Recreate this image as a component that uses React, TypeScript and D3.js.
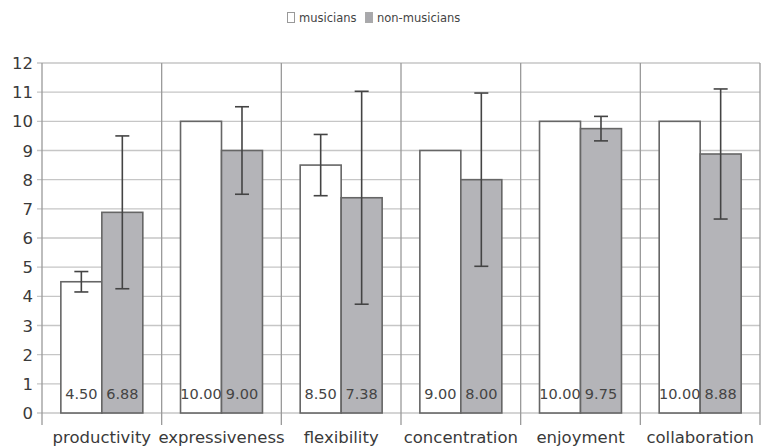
import React from "react";
import * as d3 from "d3";

const categories = ["productivity", "expressiveness", "flexibility", "concentration", "enjoyment", "collaboration"];
const seriesNames = ["musicians", "non-musicians"];
const musicians = [4.5, 10.0, 8.5, 9.0, 10.0, 10.0];
const nonMusicians = [6.88, 9.0, 7.38, 8.0, 9.75, 8.88];
const musiciansErr = [0.35, 0, 1.05, 0, 0, 0];
const nonMusiciansErr = [2.62, 1.5, 3.65, 2.97, 0.42, 2.23];
const yTicks = [0, 1, 2, 3, 4, 5, 6, 7, 8, 9, 10, 11, 12];

const W = 762;
const H = 447;
const FONT = "'DejaVu Sans', Verdana, sans-serif";

export default function App() {
  const x = d3.scaleBand<string>().domain(categories).range([42, 760]).paddingInner(0).paddingOuter(0);
  const x1 = d3.scaleBand<string>().domain(seriesNames).range([0, x.bandwidth()]).paddingInner(0).paddingOuter(0.46);
  const y = d3.scaleLinear().domain([0, 12]).range([413, 63]);

  const series = [
    { name: seriesNames[0], values: musicians, err: musiciansErr, fill: "#ffffff" },
    { name: seriesNames[1], values: nonMusicians, err: nonMusiciansErr, fill: "#b4b4b8" },
  ];
  const bw = x1.bandwidth();

  return (
    <div style={{ position: "absolute", left: 0, top: 0 }}>
      <svg width={W} height={H} style={{ display: "block", background: "#fff" }}>
        <defs>
          {categories.map((c, i) =>
            series.map((s, j) => (
              <clipPath id={`clip-${i}-${j}`} key={`${i}-${j}`}>
                <rect x={(x(c) as number) + (x1(s.name) as number)} y={y(s.values[i])} width={bw} height={y(0) - y(s.values[i])} />
              </clipPath>
            ))
          )}
        </defs>
        {/* legend */}
        <g fontFamily={FONT} fontSize={11.5} fill="#444">
          <rect x={287.5} y={12.5} width={7} height={10} fill="#fff" stroke="#999" />
          <text x={299} y={21.5}>musicians</text>
          <rect x={365.5} y={12.5} width={7} height={10} fill="#a8a8ac" stroke="#aaa" />
          <text x={377} y={21.5}>non-musicians</text>
        </g>
        {/* grid */}
        {yTicks.map((t) => (
          <line key={t} x1={37} x2={760} y1={y(t)} y2={y(t)} stroke="#c6c6c6" strokeWidth={1.3} />
        ))}
        {d3.range(categories.length + 1).map((i) => {
          const xx = 42 + i * x.step();
          return <line key={i} x1={xx} x2={xx} y1={y(12)} y2={425} stroke="#9a9a9a" strokeWidth={1.3} />;
        })}
        {/* y labels */}
        <g fontFamily={FONT} fontSize={16.5} fill="#3a3a3a" textAnchor="end">
          {yTicks.map((t) => (
            <text key={t} x={33} y={y(t) + 6}>{t}</text>
          ))}
        </g>
        {/* bars */}
        {categories.map((c, i) => (
          <g key={c}>
            {series.map((s, j) => {
              const bx = (x(c) as number) + (x1(s.name) as number);
              return (
                <rect key={s.name} x={bx} y={y(s.values[i])} width={bw} height={y(0) - y(s.values[i])} fill={s.fill} stroke="#666" strokeWidth={1.6} />
              );
            })}
            {series.map((s, j) => {
              const bx = (x(c) as number) + (x1(s.name) as number);
              return (
                <text key={s.name} clipPath={`url(#clip-${i}-${j})`} x={bx + bw / 2} y={398.5} textAnchor="middle" fontFamily={FONT} fontSize={14.5} fill="#444">
                  {s.values[i].toFixed(2)}
                </text>
              );
            })}
            {series.map((s) => {
              const e = s.err[i];
              if (!e) return null;
              const cx = (x(c) as number) + (x1(s.name) as number) + bw / 2;
              const hi = y(s.values[i] + e);
              const lo = y(s.values[i] - e);
              return (
                <g key={s.name} stroke="#444" strokeWidth={1.6}>
                  <line x1={cx} x2={cx} y1={hi} y2={lo} />
                  <line x1={cx - 7} x2={cx + 7} y1={hi} y2={hi} />
                  <line x1={cx - 7} x2={cx + 7} y1={lo} y2={lo} />
                </g>
              );
            })}
          </g>
        ))}
        {/* category labels */}
        <g fontFamily={FONT} fontSize={16.5} fill="#3a3a3a" textAnchor="middle">
          {categories.map((c) => (
            <text key={c} x={(x(c) as number) + x.bandwidth() / 2} y={443}>{c}</text>
          ))}
        </g>
      </svg>
    </div>
  );
}
